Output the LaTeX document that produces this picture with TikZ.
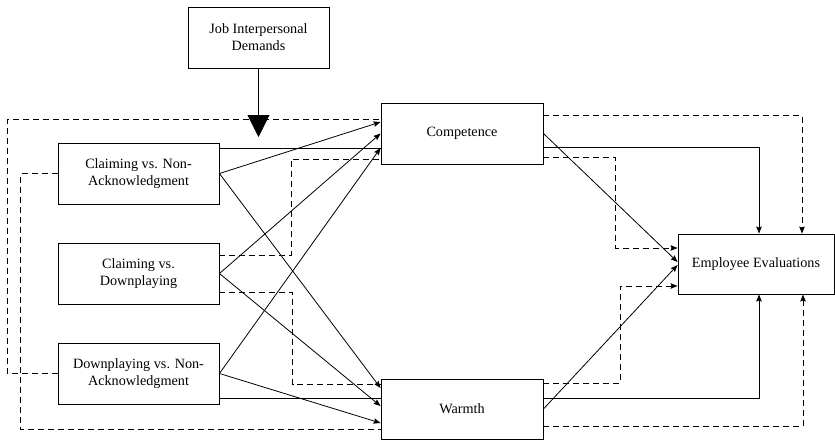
\documentclass[tikz,border=0pt]{standalone}
\usepackage{fontspec}
\setmainfont{Liberation Serif}
\usetikzlibrary{arrows.meta,calc}
\begin{document}
\begin{tikzpicture}[x=1pt,y=-1pt,
  box/.style={draw, line width=0.9pt, align=center, inner sep=0pt, font=\fontsize{14.2}{17}\selectfont},
  ln/.style={line width=0.8pt},
  arr/.style={ln, -{Stealth[length=7pt,width=5.5pt,inset=1pt]}},
  dsh/.style={ln, dash pattern=on 6pt off 4pt},
  darr/.style={dsh, -{Stealth[length=7pt,width=5.5pt,inset=1pt]}},
]
\useasboundingbox (0,0) rectangle (835,440);
% nodes
\node[box, minimum width=141pt, minimum height=61pt] (job) at (258.5,37.5) {Job Interpersonal\\Demands};
\node[box, minimum width=161pt, minimum height=61pt] (cn) at (138.5,173.5) {Claiming vs. Non-\\Acknowledgment};
\node[box, minimum width=161pt, minimum height=61pt] (cd) at (138.5,273.5) {Claiming vs.\\Downplaying};
\node[box, minimum width=161pt, minimum height=61pt] (dn) at (138.5,373.5) {Downplaying vs. Non-\\Acknowledgment};
\node[box, minimum width=162pt, minimum height=61pt] (comp) at (462,133.5) {Competence};
\node[box, minimum width=162pt, minimum height=60pt] (warm) at (462,409) {Warmth};
\node[box, minimum width=156pt, minimum height=60pt] (emp) at (756,264) {Employee Evaluations};
\coordinate (tip) at (258.5,137);
% moderator
\draw[line width=0.9pt, -{Triangle[length=22pt,width=22pt]}] (job) -- (tip);
% solid indirect paths
\draw[arr] (cn.east) -- ($(comp.west)+(0,-11.5)$);
\draw[arr] (cn.east) -- ($(warm.west)+(0,-21)$);
\draw[arr] (cd.east) -- (comp.west);
\draw[arr] (cd.east) -- ($(warm.west)+(0,-3)$);
\draw[arr] (dn.east) -- ($(comp.west)+(0,14.5)$);
\draw[arr] (dn.east) -- ($(warm.west)+(0,14)$);
\draw[arr] (comp.east) -- ($(emp.west)+(0,-2)$);
\draw[arr] (warm.east) -- ($(emp.west)+(0,1)$);
% solid direct paths
\draw[ln] ($(cn.east)+(0,-25)$) -- ($(comp.west)+(0,15)$);
\draw[arr] ($(comp.east)+(0,13.5)$) -| ($(emp.north)+(3,0)$);
\draw[ln] ($(dn.east)+(0,24.5)$) -- ($(warm.west)+(0,-11)$);
\draw[arr] ($(warm.east)+(0,-11)$) -| ($(emp.south)+(3,0)$);
% dashed paths
\draw[dsh] (dn.west) -| ($(comp.west)+(-373,-14.5)$) -- ($(comp.west)+(0,-14.5)$);
\draw[darr] ($(comp.east)+(0,-18)$) -| ($(emp.north)+(46,0)$);
\draw[dsh] (cn.west) -| ($(warm.west)+(-360,20)$) -- ($(warm.west)+(0,20)$);
\draw[darr] ($(warm.east)+(0,17)$) -| ($(emp.south)+(47,0)$);
\draw[dsh] ($(cd.east)+(0,-18.5)$) -| ($(comp.west)+(-89,25.5)$) -- ($(comp.west)+(0,25.5)$);
\draw[darr] ($(comp.east)+(0,24)$) -| ($(emp.west)+(-62,-16)$) -- ($(emp.west)+(0,-16)$);
\draw[dsh] ($(cd.east)+(0,18.5)$) -| ($(warm.west)+(-88,-25)$) -- ($(warm.west)+(0,-25)$);
\draw[darr] ($(warm.east)+(0,-26)$) -| ($(emp.west)+(-57,22)$) -- ($(emp.west)+(0,22)$);
\end{tikzpicture}
\end{document}
